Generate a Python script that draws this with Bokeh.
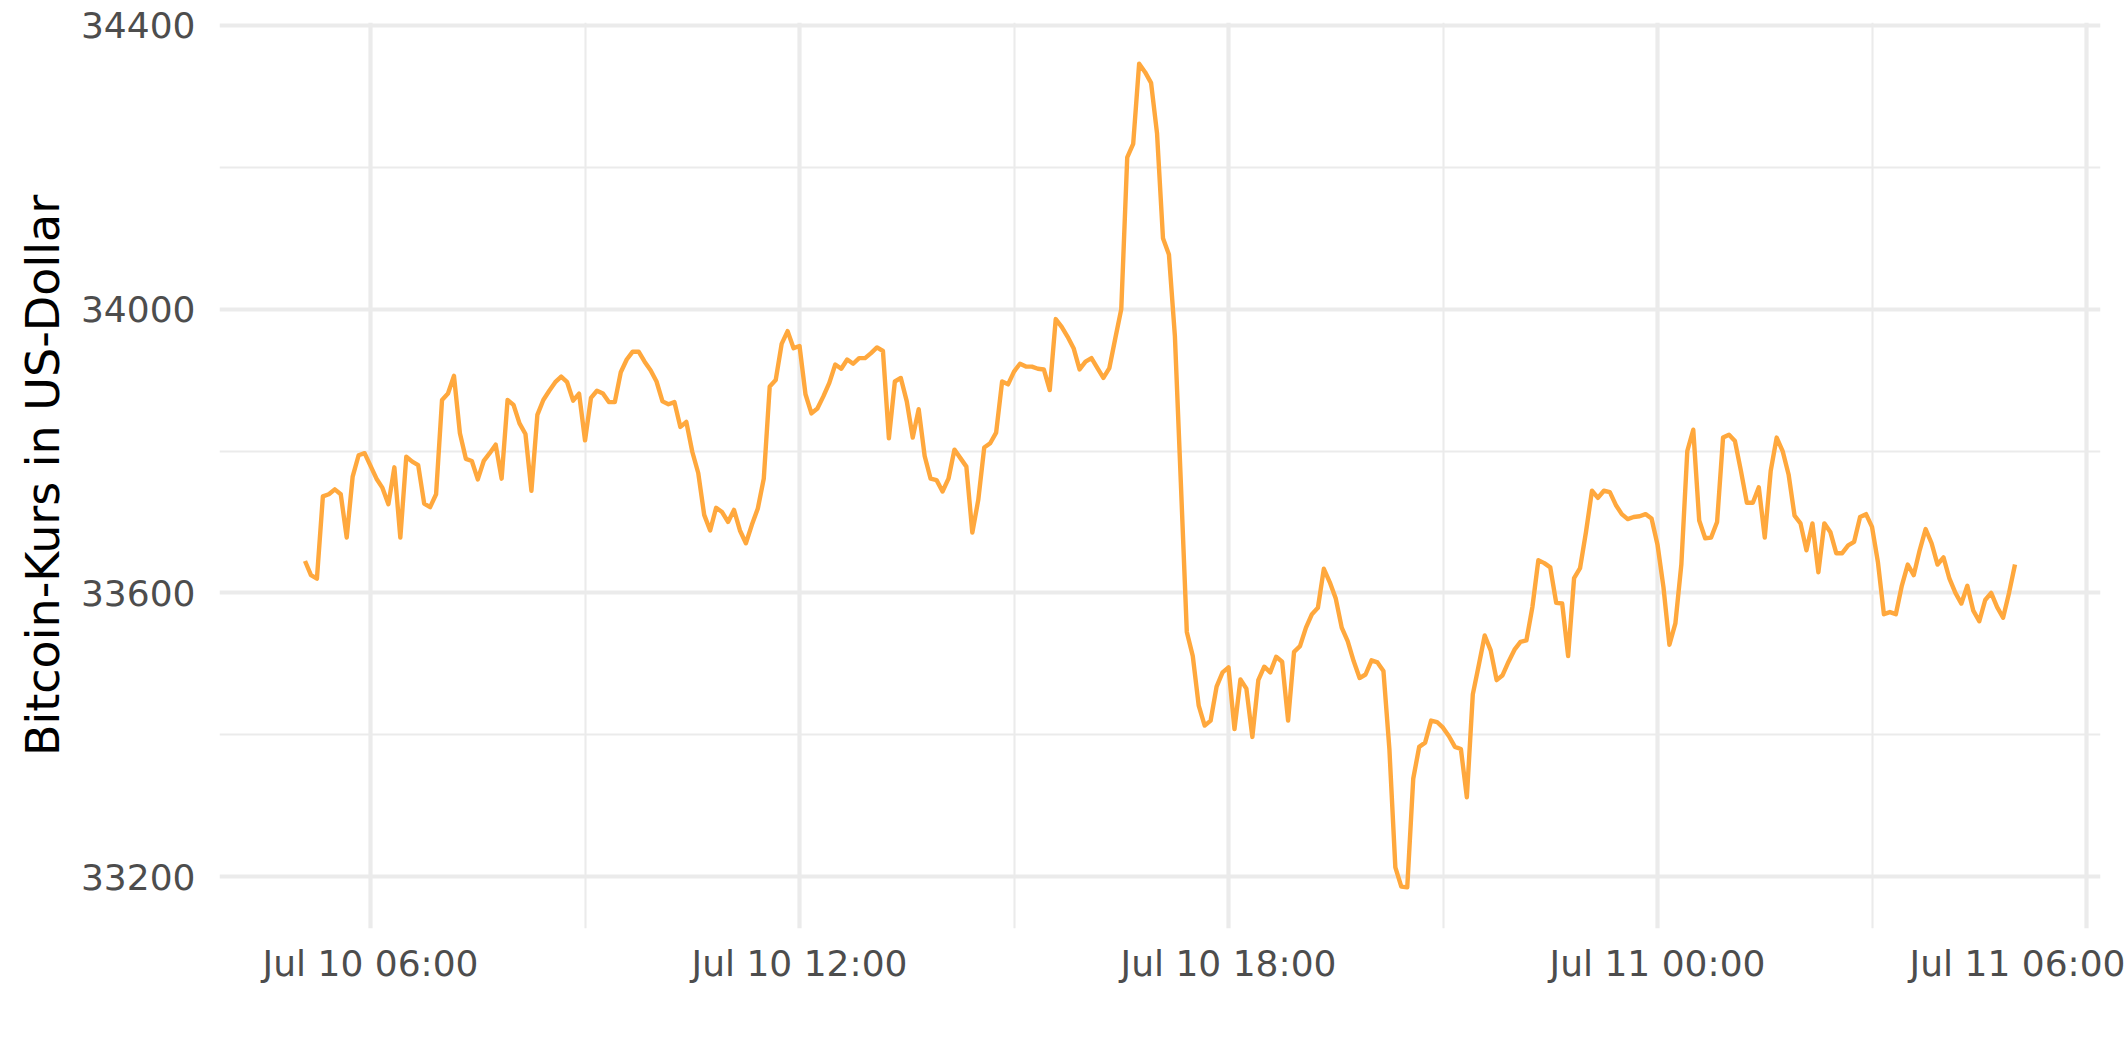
import pandas as pd
from bokeh.plotting import figure
from bokeh.models import ColumnDataSource, Range1d, FixedTicker, DatetimeTickFormatter
from bokeh.embed import file_html
from bokeh.resources import INLINE

# ---- data (5-minute Bitcoin prices) ----
start_time = "2021-07-10 05:05"
step = "5min"
prices = [
    33645, 33625, 33620, 33736, 33739, 33746, 33739, 33678, 33764, 33794,
    33797, 33779, 33761, 33748, 33725, 33777, 33678, 33792, 33785, 33780,
    33726, 33721, 33739, 33872, 33881, 33906, 33825, 33789, 33786, 33760,
    33786, 33797, 33809, 33761, 33872, 33865, 33839, 33824, 33744, 33851,
    33872, 33885, 33897, 33905, 33897, 33871, 33881, 33815, 33875, 33885,
    33881, 33869, 33869, 33911, 33929, 33940, 33940, 33926, 33914, 33898,
    33870, 33866, 33869, 33834, 33841, 33799, 33769, 33710, 33688, 33720,
    33714, 33700, 33717, 33688, 33670, 33696, 33719, 33761, 33891, 33900,
    33951, 33969, 33945, 33948, 33880, 33853, 33860, 33877, 33896, 33922,
    33916, 33929, 33923, 33931, 33931, 33938, 33946, 33941, 33818, 33898,
    33903, 33870, 33819, 33859, 33793, 33761, 33759, 33743, 33761, 33802,
    33790, 33778, 33685, 33731, 33805, 33811, 33826, 33898, 33894, 33912,
    33923, 33919, 33919, 33916, 33915, 33886, 33986, 33975, 33961, 33945,
    33915, 33926, 33931, 33917, 33903, 33917, 33959, 34000, 34214, 34233,
    34346, 34334, 34319, 34248, 34100, 34077, 33962, 33755, 33545, 33511,
    33441, 33413, 33420, 33468, 33488, 33495, 33408, 33478, 33465, 33397,
    33477, 33496, 33488, 33510, 33503, 33420, 33517, 33525, 33551, 33570,
    33579, 33634, 33615, 33592, 33551, 33532, 33504, 33480, 33485, 33505,
    33502, 33490, 33380, 33213, 33186, 33185, 33338, 33383, 33389, 33420,
    33418, 33410, 33398, 33383, 33380, 33312, 33457, 33498, 33540, 33519,
    33477, 33484, 33503, 33520, 33531, 33533, 33580, 33646, 33642, 33636,
    33586, 33585, 33511, 33621, 33635, 33686, 33744, 33734, 33744, 33742,
    33724, 33711, 33704, 33707, 33708, 33711, 33705, 33668, 33608, 33527,
    33557, 33640, 33800, 33830, 33702, 33677, 33678, 33700, 33819, 33823,
    33814, 33772, 33727, 33727, 33749, 33678, 33772, 33819, 33800, 33767,
    33709, 33698, 33660, 33698, 33629, 33698, 33686, 33656, 33656, 33667,
    33672, 33707, 33711, 33693, 33643, 33570, 33573, 33570, 33610, 33640,
    33625, 33660, 33690, 33670, 33640, 33650, 33620, 33600, 33585, 33610,
    33575, 33560, 33590, 33600, 33580, 33565, 33600, 33640,
]

x_tick_times = ["2021-07-10 06:00", "2021-07-10 12:00", "2021-07-10 18:00",
                "2021-07-11 00:00", "2021-07-11 06:00"]
x_minor_times = ["2021-07-10 03:00", "2021-07-10 09:00", "2021-07-10 15:00",
                 "2021-07-10 21:00", "2021-07-11 03:00"]
y_ticks = [33200, 33600, 34000, 34400]
y_minor = [33400, 33800, 34200]


def ms(s):
    return pd.Timestamp(s).value // 10**6


times = pd.date_range(start_time, periods=len(prices), freq=step)
src = ColumnDataSource(data=dict(t=times, price=prices))

# ggplot-like 5 % expansion of the data range on both axes
t0, t1 = ms(times[0]), ms(times[-1])
xpad = 0.05 * (t1 - t0)
lo, hi = min(prices), max(prices)
ypad = 0.05 * (hi - lo)

p = figure(
    width=2125, height=1062,
    min_border_left=219, min_border_right=25,
    min_border_top=22, min_border_bottom=134,
    x_axis_type="datetime",
    x_range=Range1d(t0 - xpad, t1 + xpad),
    y_range=Range1d(lo - ypad, hi + ypad),
    output_backend="svg", toolbar_location=None,
)

p.line(x="t", y="price", source=src, line_color="#FFA83D", line_width=4.4,
       line_join="round")

xt = FixedTicker(ticks=[ms(s) for s in x_tick_times],
                 minor_ticks=[ms(s) for s in x_minor_times])
yt = FixedTicker(ticks=y_ticks, minor_ticks=y_minor)
p.xaxis.ticker = xt
p.yaxis.ticker = yt
p.xgrid.ticker = xt
p.ygrid.ticker = yt

fmt = "%b %d %H:%M"
p.xaxis.formatter = DatetimeTickFormatter(
    microseconds=fmt, milliseconds=fmt, seconds=fmt, minsec=fmt, minutes=fmt,
    hourmin=fmt, hours=fmt, days=fmt, months=fmt, years=fmt)

grid_col = "#EBEBEB"
for g in (p.xgrid, p.ygrid):
    g.grid_line_color = grid_col
    g.grid_line_width = 4.2
    g.minor_grid_line_color = grid_col
    g.minor_grid_line_width = 2.1

for ax in (p.xaxis, p.yaxis):
    ax.axis_line_color = None
    ax.major_tick_line_color = None
    ax.minor_tick_line_color = None
    ax.major_tick_out = 0
    ax.major_tick_in = 0
    ax.major_label_text_font = "DejaVu Sans"
    ax.major_label_text_font_size = "36px"
    ax.major_label_text_color = "#4D4D4D"

p.xaxis.major_label_standoff = 10
p.yaxis.major_label_standoff = 20
p.yaxis.axis_label = "Bitcoin-Kurs in US-Dollar"
p.yaxis.axis_label_text_font = "DejaVu Sans"
p.yaxis.axis_label_text_font_size = "46px"
p.yaxis.axis_label_text_font_style = "normal"
p.yaxis.axis_label_text_color = "black"
p.yaxis.axis_label_standoff = 8

p.outline_line_color = None
p.background_fill_color = "white"
p.border_fill_color = "white"

open("out.html", "w").write(file_html(p, INLINE))
